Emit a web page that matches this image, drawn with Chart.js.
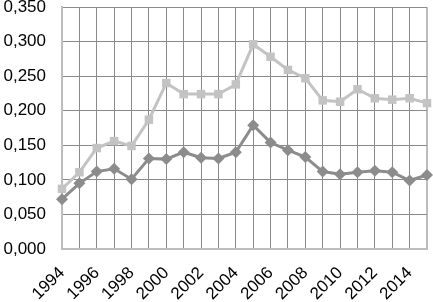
<!DOCTYPE html>
<html>
<head>
<meta charset="utf-8">
<script src="https://cdn.jsdelivr.net/npm/chart.js@4/dist/chart.umd.min.js"></script>
<style>
  html, body { margin: 0; padding: 0; background: #fff; }
  #wrap { width: 433px; height: 302px; }
</style>
</head>
<body>
<div id="wrap"><canvas id="chartLine1" width="433" height="302"></canvas></div>
<script>
        // 연도
        let years = ["1994","1995","1996","1997","1998","1999","2000","2001","2002","2003","2004",
                     "2005","2006","2007","2008","2009","2010","2011","2012","2013","2014","2015"];

        // 윗 선 (밝은 회색, 네모)
        let dataUpper = [0.087,0.111,0.146,0.156,0.149,0.187,0.240,0.224,0.224,0.224,0.238,
                         0.296,0.278,0.259,0.247,0.215,0.213,0.231,0.218,0.216,0.218,0.211];

        // 아래 선 (진한 회색, 마름모)
        let dataLower = [0.072,0.095,0.112,0.116,0.101,0.131,0.130,0.140,0.132,0.131,0.140,
                         0.179,0.154,0.143,0.133,0.112,0.108,0.111,0.113,0.111,0.099,0.107];

        let yMin = 0, yMax = 0.35, yStep = 0.05;

        let gridDark  = "#8a8a8a";
        let edgeLight = "#bdbdbd";
        let fontFam   = "'Liberation Sans', Arial, sans-serif";

        // 자동 여백 제거
        function noPad(scale){
            scale.paddingTop = 0;
            scale.paddingBottom = 0;
            scale.paddingLeft = 0;
            scale.paddingRight = 0;
        }

        var ctx1 = document.getElementById("chartLine1").getContext("2d");

        new Chart(ctx1, {
            type : "line",
            data : {
                labels: years,
                datasets:[
                    {
                        label:"upper",
                        data :dataUpper,
                        borderColor:"#c3c3c3",
                        backgroundColor:"#c3c3c3",
                        borderWidth: 3,
                        pointStyle:"rect",
                        pointRadius: 6,
                        pointBorderWidth: 0,
                        tension: 0
                    },
                    {
                        label:"lower",
                        data :dataLower,
                        borderColor:"#8c8c8c",
                        backgroundColor:"#8c8c8c",
                        borderWidth: 3,
                        pointStyle:"rectRot",
                        pointRadius: 6,
                        pointBorderWidth: 0,
                        tension: 0
                    }
                ]
            },
            options: {
                responsive:false,
                animation:false,
                layout: { padding: { top: 7, right: 5, left: 0, bottom: 0 } },
                plugins: {
                    legend: { display:false },
                    tooltip: { enabled:false }
                },
                scales: {
                    x: {
                        offset:false,
                        grid: {
                            color:function(c){ return c.index == years.length-1 ? edgeLight : gridDark; },
                            lineWidth:function(c){ return c.index == years.length-1 ? 2 : 1; },
                            drawTicks:false
                        },
                        border: { color:edgeLight, width:2 },
                        ticks: {
                            autoSkip:false,
                            minRotation:45,
                            maxRotation:45,
                            padding:14,
                            color:"#000",
                            font:{ family:fontFam, size:17 },
                            callback:function(val, idx){
                                return idx % 2 == 0 ? years[idx] : "";
                            }
                        },
                        afterFit:function(scale){ scale.height = 53; noPad(scale); }
                    },
                    y: {
                        min:yMin,
                        max:yMax,
                        grid: { color:gridDark, lineWidth:1, drawTicks:false },
                        border: { color:edgeLight, width:2 },
                        ticks: {
                            stepSize:yStep,
                            padding:16,
                            color:"#000",
                            font:{ family:fontFam, size:17 },
                            callback:function(val){
                                return val.toFixed(3).replace(".", ",");
                            }
                        },
                        afterFit:function(scale){ scale.width = 62; noPad(scale); }
                    }
                }
            }
        });
</script>
</body>
</html>
